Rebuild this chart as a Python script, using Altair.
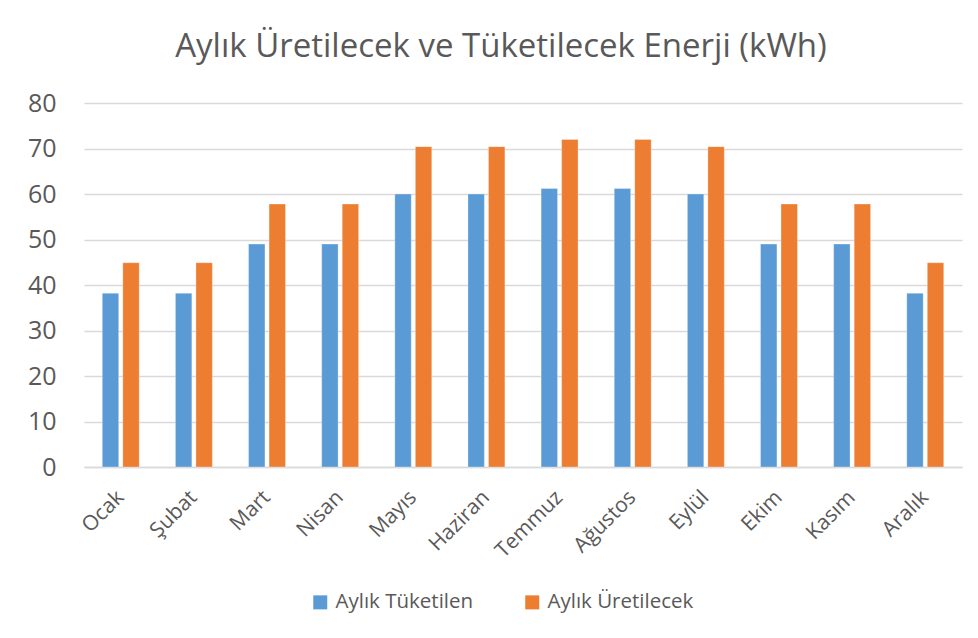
import altair as alt
import pandas as pd

months = ["Ocak", "Şubat", "Mart", "Nisan", "Mayıs", "Haziran",
          "Temmuz", "Ağustos", "Eylül", "Ekim", "Kasım", "Aralık"]
consumed = [38.2, 38.2, 49.0, 49.0, 60.0, 60.0, 61.2, 61.2, 60.0, 49.0, 49.0, 38.2]
produced = [44.9, 44.9, 57.8, 57.8, 70.4, 70.4, 72.0, 72.0, 70.4, 57.8, 57.8, 44.9]
series = ["Aylık Tüketilen", "Aylık Üretilecek"]
colors = ["#5B9BD5", "#ED7D31"]

rows = []
for m, c, p in zip(months, consumed, produced):
    rows.append({"Ay": m, "Seri": series[0], "Değer": c})
    rows.append({"Ay": m, "Seri": series[1], "Değer": p})
df = pd.DataFrame(rows)

FONT = "Open Sans"
TXT = "#595959"

chart = alt.Chart(df).mark_bar(stroke="white", strokeWidth=0.6, strokeOpacity=0.5).encode(
    x=alt.X("Ay:N", sort=months, title=None,
            scale=alt.Scale(paddingInner=0.495, paddingOuter=0.25),
            axis=alt.Axis(labelAngle=-45, labelAlign="right", labelBaseline="middle",
                          labelFontSize=21, labelColor=TXT, labelFont=FONT,
                          labelPadding=27, labelOffset=0,
                          ticks=False, domainColor="#D9D9D9", domainWidth=1.5)),
    xOffset=alt.XOffset("Seri:N", sort=series,
                        scale=alt.Scale(paddingInner=0.2)),
    y=alt.Y("Değer:Q", title=None,
            scale=alt.Scale(domain=[0, 80], nice=False),
            axis=alt.Axis(values=list(range(0, 81, 10)), labelFontSize=25,
                          labelColor=TXT, labelFont=FONT, labelPadding=28,
                          ticks=False, domain=False,
                          gridColor="#D9D9D9", gridWidth=1.5)),
    color=alt.Color("Seri:N", sort=series,
                    scale=alt.Scale(domain=series, range=colors),
                    legend=alt.Legend(title=None, orient="none", direction="horizontal",
                                      legendX=226, legendY=489,
                                      symbolType="square", symbolSize=196,
                                      symbolStrokeWidth=0,
                                      labelFontSize=20.5, labelColor=TXT, labelFont=FONT,
                                      columnPadding=48, labelOffset=5)),
).properties(
    width=878, height=364,
    title=alt.TitleParams("Aylık Üretilecek ve Tüketilecek Enerji (kWh)",
                          fontSize=33, font=FONT, fontWeight="normal",
                          color=TXT, offset=27, dx=-22, anchor="middle"),
    autosize=alt.AutoSizeParams(type="none"),
    padding={"left": 76, "top": 95, "right": 8, "bottom": 163},
).configure(background="white").configure_view(stroke=None)

chart.save("out.html", embed_options={"renderer": "svg", "actions": False})
